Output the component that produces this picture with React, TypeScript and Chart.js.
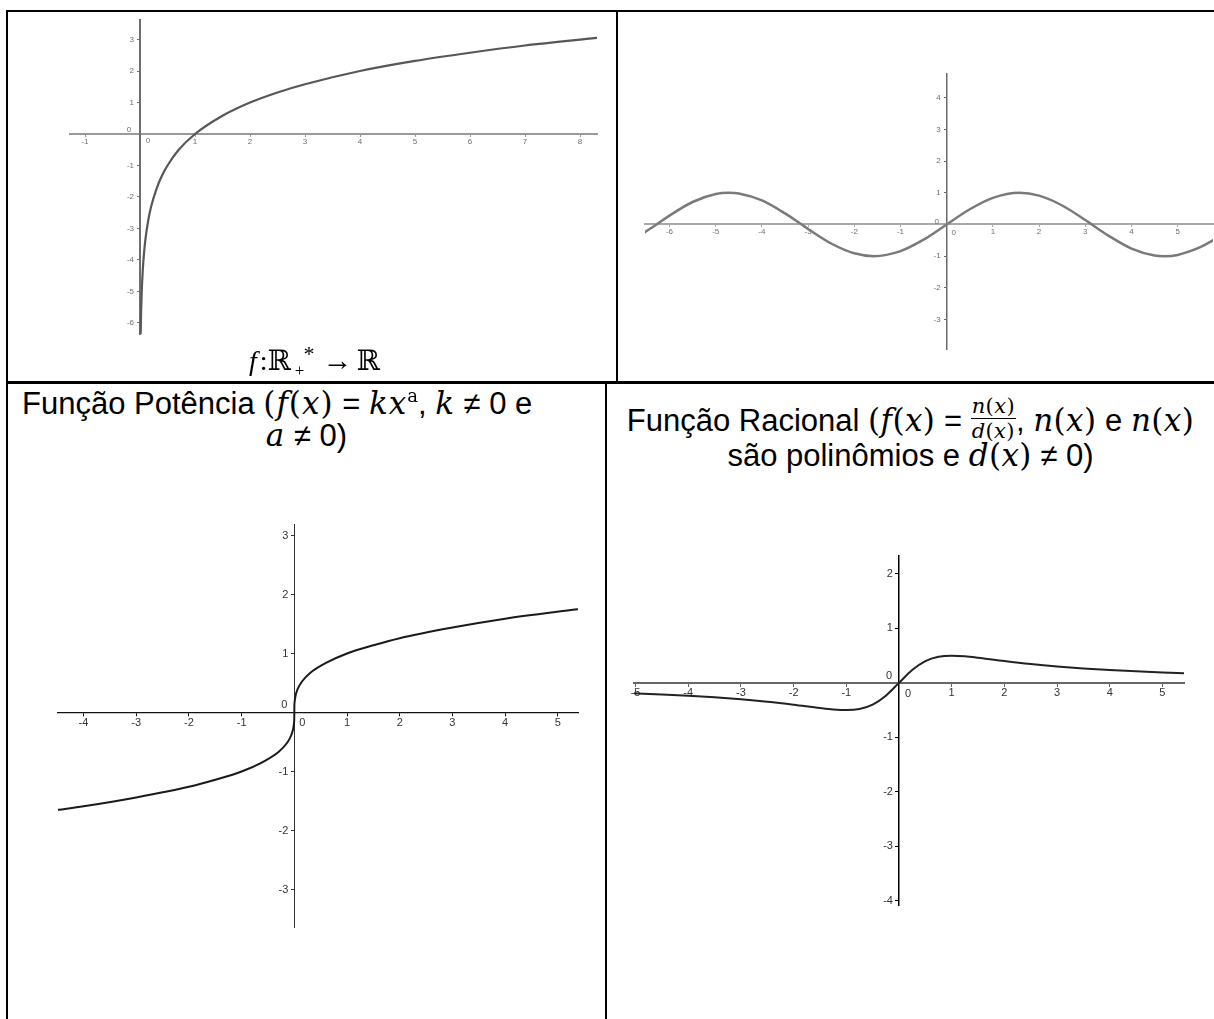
import React, { useEffect, useRef } from 'react';
import { Chart, registerables } from 'chart.js';

Chart.register(...registerables);

// y = log2(x), x > 0
const logX = [0.0125, 0.02, 0.03, 0.05, 0.075, 0.1, 0.15, 0.2, 0.3, 0.4, 0.5, 0.7, 1, 1.5, 2, 2.5, 3, 4, 5, 6, 7, 8.3];
const logY = [-6.32, -5.64, -5.06, -4.32, -3.74, -3.32, -2.74, -2.32, -1.74, -1.32, -1, -0.51, 0, 0.58, 1, 1.32, 1.58, 2, 2.32, 2.58, 2.81, 3.05];

// y = sin(x)
const sinX = [-6.53, -6.28, -6, -5.5, -5, -4.71, -4.5, -4, -3.5, -3.14, -3, -2.5, -2, -1.57, -1, -0.5, 0, 0.5, 1, 1.57, 2, 2.5, 3, 3.14, 3.5, 4, 4.5, 4.71, 5, 5.5, 5.76];
const sinY = [-0.24, 0, 0.28, 0.71, 0.96, 1, 0.98, 0.76, 0.35, 0, -0.14, -0.6, -0.91, -1, -0.84, -0.48, 0, 0.48, 0.84, 1, 0.91, 0.6, 0.14, 0, -0.35, -0.76, -0.98, -1, -0.96, -0.71, -0.5];

// y = x^(1/3)
const powX = [-4.48, -4, -3, -2, -1.5, -1, -0.6, -0.3, -0.15, -0.06, -0.02, -0.005, -0.001, 0, 0.001, 0.005, 0.02, 0.06, 0.15, 0.3, 0.6, 1, 1.5, 2, 3, 4, 5.37];
const powY = [-1.65, -1.59, -1.44, -1.26, -1.14, -1, -0.84, -0.67, -0.53, -0.39, -0.27, -0.17, -0.1, 0, 0.1, 0.17, 0.27, 0.39, 0.53, 0.67, 0.84, 1, 1.14, 1.26, 1.44, 1.59, 1.75];

// y = x / (x^2 + 1)
const ratX = [-5.03, -4.5, -4, -3.5, -3, -2.5, -2, -1.5, -1.25, -1, -0.75, -0.5, -0.25, 0, 0.25, 0.5, 0.75, 1, 1.25, 1.5, 2, 2.5, 3, 3.5, 4, 4.5, 5, 5.42];
const ratY = [-0.191, -0.212, -0.235, -0.264, -0.3, -0.345, -0.4, -0.462, -0.488, -0.5, -0.48, -0.4, -0.235, 0, 0.235, 0.4, 0.48, 0.5, 0.488, 0.462, 0.4, 0.345, 0.3, 0.264, 0.235, 0.212, 0.192, 0.178];

// visible windows of each pair of axes: [min, max]
const logXRange = [-1.273, 8.309];
const logYRange = [-6.35, 3.62];
const sinXRange = [-6.53, 5.764];
const sinYRange = [-3.93, 4.75];
const powXRange = [-4.484, 5.383];
const powYRange = [-3.636, 3.195];
const ratXRange = [-5.03, 5.41];
const ratYRange = [-4.08, 2.33];

const SANS = '"Liberation Sans", Arial, sans-serif';
const MATH = '"DejaVu Serif", "Liberation Serif", serif';
const CAPTION = '"Liberation Serif", "DejaVu Serif", serif';
const PAD = 16;

type Rect = { l: number; t: number; w: number; h: number };
type Look = {
  curve: string; curveWidth: number;
  xAxis: string; xAxisWidth: number;
  yAxis: string; yAxisWidth: number;
  tickSize: number; tickColor: string; tickLen: number; xPad: number; yGap: number;
  zeroY: [number, number]; zeroX: [number, number];
  blur?: number;
};

// moves y labels off the axis line and writes the two "0" labels next to the origin
const axisTweaks = {
  id: 'axisTweaks',
  beforeDraw(chart: any, _args: any, opts: any) {
    const items = chart.scales.y.getLabelItems(chart.chartArea);
    for (const it of items) {
      if (!it._moved) {
        it.options.translation[0] -= opts.yGap;
        it._moved = true;
      }
    }
  },
  afterDraw(chart: any, _args: any, opts: any) {
    const { ctx } = chart;
    const px = chart.scales.x.getPixelForValue(0);
    const py = chart.scales.y.getPixelForValue(0);
    ctx.save();
    ctx.font = `${opts.size}px ${SANS}`;
    ctx.fillStyle = opts.color;
    ctx.textAlign = 'center';
    ctx.textBaseline = 'middle';
    ctx.fillText('0', px + opts.zeroY[0], py + opts.zeroY[1]);
    ctx.fillText('0', px + opts.zeroX[0], py + opts.zeroX[1]);
    ctx.restore();
  },
};

function Plot({ xs, ys, xr, yr, rect, look }: { xs: number[]; ys: number[]; xr: number[]; yr: number[]; rect: Rect; look: Look }) {
  const ref = useRef<HTMLCanvasElement>(null);
  useEffect(() => {
    const label = (v: any) => (Number(v) === 0 ? '' : String(v));
    const font = { family: SANS, size: look.tickSize };
    const chart = new Chart(ref.current as HTMLCanvasElement, {
      type: 'scatter',
      data: {
        datasets: [
          {
            data: xs.map((x, i) => ({ x, y: ys[i] })),
            showLine: true,
            pointRadius: 0,
            borderColor: look.curve,
            borderWidth: look.curveWidth,
            cubicInterpolationMode: 'monotone',
            borderCapStyle: 'round',
            borderJoinStyle: 'round',
          } as any,
        ],
      },
      options: {
        responsive: false,
        animation: false,
        devicePixelRatio: 1,
        events: [],
        layout: { padding: PAD },
        plugins: {
          legend: { display: false },
          tooltip: { enabled: false },
          axisTweaks: { yGap: look.yGap, zeroY: look.zeroY, zeroX: look.zeroX, size: look.tickSize, color: look.tickColor },
        } as any,
        scales: {
          x: {
            type: 'linear',
            min: xr[0],
            max: xr[1],
            position: { y: 0 } as any,
            grid: { drawOnChartArea: false, drawTicks: true, tickLength: look.tickLen, color: look.xAxis, lineWidth: 1 },
            border: { display: true, color: look.xAxis, width: look.xAxisWidth },
            ticks: { stepSize: 1, includeBounds: false, autoSkip: false, maxRotation: 0, font, color: look.tickColor, padding: look.xPad, callback: label },
            afterFit: (s: any) => { s.height = 0; s.paddingLeft = 0; s.paddingRight = 0; },
          },
          y: {
            type: 'linear',
            min: yr[0],
            max: yr[1],
            position: { x: 0 } as any,
            grid: { drawOnChartArea: false, drawTicks: true, tickLength: look.tickLen, color: look.yAxis, lineWidth: 1 },
            border: { display: true, color: look.yAxis, width: look.yAxisWidth },
            ticks: { stepSize: 1, includeBounds: false, autoSkip: false, font, color: look.tickColor, padding: 0, callback: label },
            afterFit: (s: any) => { s.width = 0; s.paddingTop = 0; s.paddingBottom = 0; },
          },
        } as any,
      },
      plugins: [axisTweaks as any],
    });
    return () => chart.destroy();
  }, []);
  return (
    <canvas
      ref={ref}
      width={rect.w + 2 * PAD}
      height={rect.h + 2 * PAD}
      style={{ position: 'absolute', left: rect.l - PAD, top: rect.t - PAD, filter: look.blur ? `blur(${look.blur}px)` : undefined }}
    />
  );
}

const I = ({ c, ls = 1 }: { c: string; ls?: number }) => (
  <span style={{ fontFamily: MATH, fontStyle: 'italic', fontSize: '1em', letterSpacing: ls }}>{c}</span>
);
const R = ({ c, ls = 1 }: { c: string; ls?: number }) => (
  <span style={{ fontFamily: MATH, fontSize: '1em', letterSpacing: ls }}>{c}</span>
);
const Fn = ({ f, v, ls = 1 }: { f: string; v: string; ls?: number }) => (
  <>
    <I c={f} ls={ls} />
    <R c="(" ls={ls} />
    <I c={v} ls={ls} />
    <R c=")" ls={ls} />
  </>
);

const line = (extra: React.CSSProperties): React.CSSProperties => ({
  position: 'absolute',
  fontFamily: SANS,
  fontSize: 31,
  lineHeight: '36px',
  whiteSpace: 'nowrap',
  color: '#000',
  ...extra,
});

const bar = (l: number, t: number, w: number, h: number) => (
  <div style={{ position: 'absolute', left: l, top: t, width: w, height: h, background: '#000' }} />
);

export default function App() {
  const topLook = {
    tickSize: 8, tickColor: '#6f6f6f', tickLen: 2, xPad: 1, yGap: 6, blur: 0.45,
  };
  return (
    <div style={{ position: 'absolute', left: 0, top: 0, width: 1214, height: 1019, background: '#fff', overflow: 'hidden' }}>
      {bar(6, 10, 1208, 2)}
      {bar(6, 10, 2, 1009)}
      {bar(616, 10, 2, 373)}
      {bar(6, 381, 1208, 3)}
      {bar(605, 381, 2, 638)}

      <Plot
        xs={logX} ys={logY} xr={logXRange} yr={logYRange}
        rect={{ l: 70, t: 20, w: 527, h: 314 }}
        look={{ ...topLook, curve: '#575757', curveWidth: 2.2, xAxis: '#9a9a9a', xAxisWidth: 2, yAxis: '#6e6e6e', yAxisWidth: 2, zeroY: [-11, -4], zeroX: [8, 7] }}
      />
      <Plot
        xs={sinX} ys={sinY} xr={sinXRange} yr={sinYRange}
        rect={{ l: 645, t: 74, w: 568, h: 275 }}
        look={{ ...topLook, curve: '#7a7a7a', curveWidth: 2.5, xAxis: '#a8a8a8', xAxisWidth: 2, yAxis: '#6a6a6a', yAxisWidth: 1.5, zeroY: [-10, -3], zeroX: [7, 8] }}
      />
      <Plot
        xs={powX} ys={powY} xr={powXRange} yr={powYRange}
        rect={{ l: 58, t: 524, w: 520, h: 403 }}
        look={{ curve: '#1a1a1a', curveWidth: 2, xAxis: '#111', xAxisWidth: 1.3, yAxis: '#333', yAxisWidth: 1, tickSize: 11, tickColor: '#333', tickLen: 3, xPad: 1, yGap: 6, zeroY: [-10, -8], zeroX: [8, 10.5] }}
      />
      <Plot
        xs={ratX} ys={ratY} xr={ratXRange} yr={ratYRange}
        rect={{ l: 634, t: 556, w: 550, h: 349 }}
        look={{ curve: '#222', curveWidth: 2, xAxis: '#666', xAxisWidth: 2, yAxis: '#000', yAxisWidth: 1.5, tickSize: 11, tickColor: '#333', tickLen: 3, xPad: 1, yGap: 6, zeroY: [-10, -7], zeroX: [9, 11] }}
      />

      <div style={line({ left: 249, top: 342, fontFamily: CAPTION, fontSize: 28, lineHeight: '36px' })}>
        <i>f</i>
        <span style={{ marginLeft: 3 }}>:ℝ</span>
        <span style={{ fontSize: 17, position: 'relative', top: 6, marginLeft: 4 }}>+</span>
        <span style={{ fontSize: 22, position: 'relative', top: -9, marginLeft: -1 }}>*</span>
        <span style={{ marginLeft: 8, fontSize: 30 }}>→</span>
        <span style={{ marginLeft: 4 }}>ℝ</span>
      </div>

      <div style={line({ left: 22, top: 385 })}>
        Função Potência <R c="(" />
        <Fn f="f" v="x" /> = <I c="kx" />
        <span style={{ fontFamily: MATH, fontSize: 18, position: 'relative', top: -12 }}>a</span>, <I c="k" /> ≠ 0 e
      </div>
      <div style={line({ left: 8, width: 597, top: 417, textAlign: 'center' })}>
        <I c="a" /> ≠ 0)
      </div>

      <div style={line({ left: 607, width: 607, top: 398, textAlign: 'center' })}>
        Função Racional <R c="(" ls={0.4} />
        <Fn f="f" v="x" ls={0.4} /> ={' '}
        <span
          style={{
            display: 'inline-block',
            verticalAlign: 'middle',
            textAlign: 'center',
            fontSize: 21,
            lineHeight: '24px',
            position: 'relative',
            top: -4,
          }}
        >
          <span style={{ display: 'block', borderBottom: '1.5px solid #000', padding: '0 1px' }}>
            <Fn f="n" v="x" ls={0.4} />
          </span>
          <span style={{ display: 'block' }}>
            <Fn f="d" v="x" ls={0.4} />
          </span>
        </span>
        , <Fn f="n" v="x" ls={0.4} /> e <Fn f="n" v="x" ls={0.4} />
      </div>
      <div style={line({ left: 607, width: 607, top: 437, textAlign: 'center' })}>
        são polinômios e <Fn f="d" v="x" ls={0.4} /> ≠ 0)
      </div>
    </div>
  );
}
